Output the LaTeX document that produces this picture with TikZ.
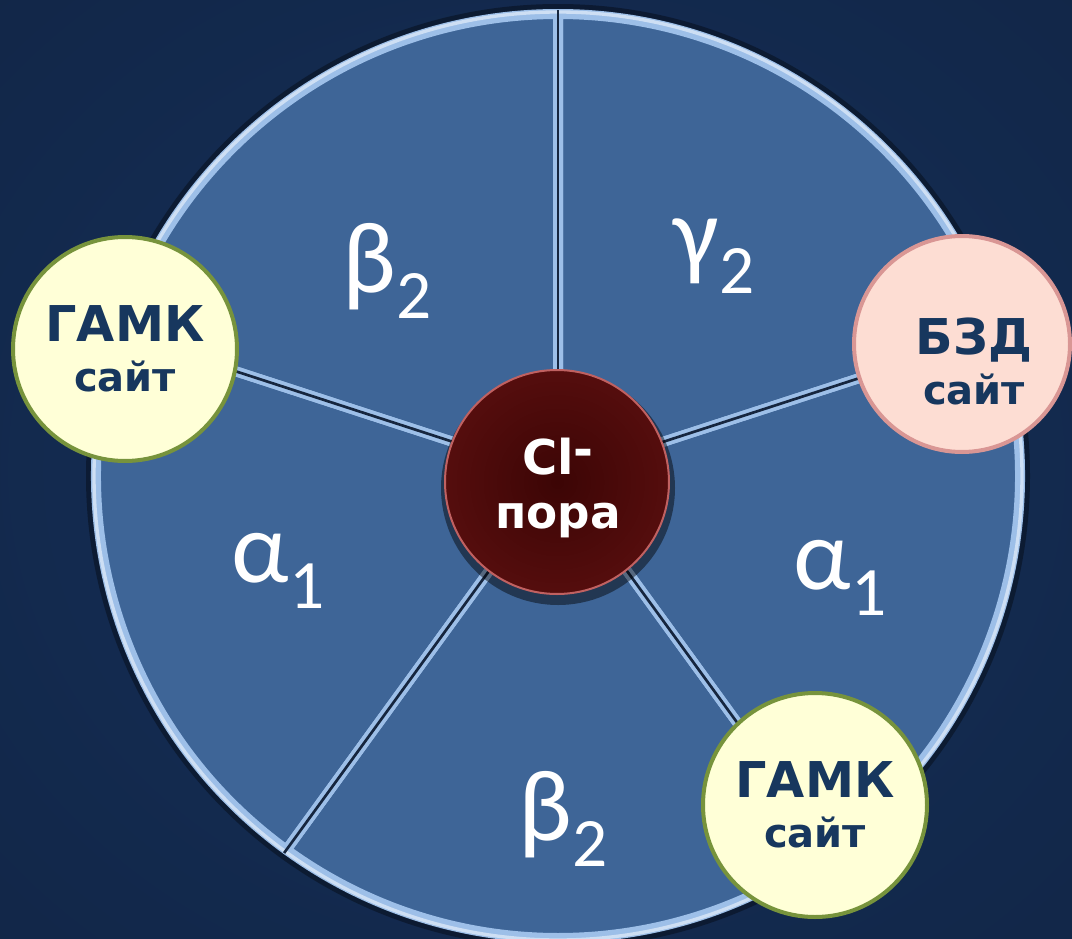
\documentclass[tikz,border=0pt]{standalone}
\usepackage{fontspec}
\setmainfont{DejaVu Sans}
\newfontfamily\greekfont{Carlito}
\usetikzlibrary{positioning}
\definecolor{bgdark}{HTML}{0E1D36}
\definecolor{bglight}{HTML}{15305A}
\definecolor{wedge}{HTML}{3E6597}
\definecolor{wedgeedge}{HTML}{9DBFE8}
\definecolor{gap}{HTML}{16263F}
\definecolor{porein}{HTML}{3C0505}
\definecolor{poremid}{HTML}{5A0F0F}
\definecolor{poreout}{HTML}{8A2222}
\definecolor{porerim}{HTML}{B03A3A}
\definecolor{gabafill}{HTML}{FFFFD7}
\definecolor{gabaline}{HTML}{77933C}
\definecolor{bzdfill}{HTML}{FDDDD3}
\definecolor{bzdline}{HTML}{D99694}
\definecolor{sitetext}{HTML}{17375E}
\pgfdeclareradialshading{poreshade}{\pgfpoint{0bp}{0bp}}{color(0bp)=(porein); color(30bp)=(poremid); color(45bp)=(poreout); color(50bp)=(porerim)}
\pgfdeclareradialshading{bgshade}{\pgfpoint{0bp}{0bp}}{color(0bp)=(bglight); color(72bp)=(bgdark)}
\newcommand{\subidx}[1]{\raisebox{-19.5pt}{\fontsize{52pt}{52pt}\selectfont #1}}

\begin{document}
\begin{tikzpicture}[x=0.75pt, y=-0.75pt,
          site/.style={circle, line width=3pt, inner sep=0pt},
          sitetxt/.style={text=sitetext, align=center, inner sep=0pt,
                          font=\bfseries\fontsize{30pt}{37.5pt}\selectfont},
          unit/.style={text=white, anchor=base, inner sep=0pt,
                       font=\greekfont\fontsize{76pt}{80pt}\selectfont},
          sector/.style={draw=wedgeedge, line width=7.5pt, line join=round},
          gapline/.style={draw=gap, line width=2pt}]
        \useasboundingbox (0,0) rectangle (1072,939);
        \clip (0,0) rectangle (1072,939);
        \shade[shading=bgshade] (0,0) rectangle (1072,939);
        % receptor disk: five subunits around the pore
        \coordinate (ctr) at (558,476);
        \fill[black, opacity=.35] (ctr) circle[radius=472];
        \foreach \a in {54,126,198,270,342}
          \fill[wedge] (ctr) -- ++(\a:462) arc[start angle=\a, delta angle=72, radius=462] -- cycle;
        \foreach \a in {54,126,198,270,342}
          \draw[sector] (ctr) -- ++(\a:462) arc[start angle=\a, delta angle=72, radius=462] -- cycle;
        \draw[wedgeedge!50!white, line width=2.5pt] (ctr) circle[radius=464];
        \foreach \a in {54,126,198,270,342} \draw[gapline] (ctr) -- ++(\a:466);
        % subunit labels
        \node[unit] (betaA) at (387,292) {β\subidx{2}};
        \node[unit] (gamma) at (714,267) {γ\subidx{2}};
        \node[unit] (alphaL) at (278,582) {α\subidx{1}};
        \node[unit] (alphaR) at (840,589) {α\subidx{1}};
        \node[unit] (betaB) at (563,840) {β\subidx{2}};
        % chloride pore in the middle
        \fill[black, opacity=.45] (558,488) circle[radius=117];
        \node[circle, minimum size=168pt, inner sep=0pt, shade, shading=poreshade,
              draw=porerim!80!white, line width=1.5pt] (pore) at (557,482) {};
        \node[text=white, align=center, inner sep=0pt,
              font=\bfseries\fontsize{34pt}{41pt}\selectfont] (poretext) at (558,488)
             {{\fontsize{36pt}{36pt}\selectfont Cl\raisebox{6pt}{-}}\\пора};
        % binding sites on the rim
        \node[site, fill=gabafill, draw=gabaline, minimum size=168pt, sitetxt] (gabaL) at (125,349)
             {{\fontsize{37pt}{37pt}\selectfont ГАМК}\\сайт};
        \node[site, fill=gabafill, draw=gabaline, minimum size=168pt, sitetxt] (gabaR) at (815,805)
             {{\fontsize{37pt}{37pt}\selectfont ГАМК}\\сайт};
        \node[site, fill=bzdfill, draw=bzdline, minimum size=162pt] (bzd) at (962,344) {};
        \node[sitetxt] (bzdtext) at (974,361) {{\fontsize{37pt}{37pt}\selectfont БЗД}\\сайт};
      \end{tikzpicture}
\end{document}
